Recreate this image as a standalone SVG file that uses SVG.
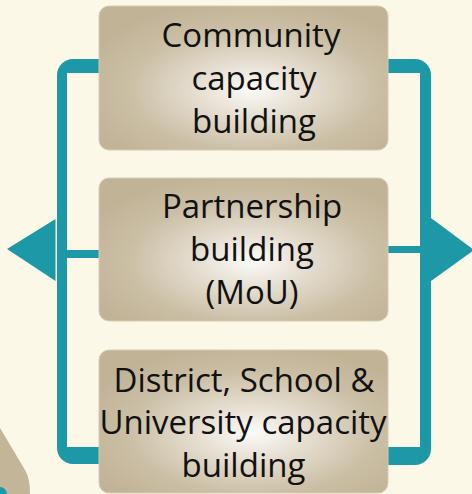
<svg xmlns="http://www.w3.org/2000/svg" width="472" height="494" viewBox="0 0 472 494">
<defs>
<radialGradient id="boxGrad" cx="0.53" cy="0.58" r="0.62" fx="0.53" fy="0.58">
<stop offset="0" stop-color="#fcfbf8"/>
<stop offset="0.3" stop-color="#e6dfd2"/>
<stop offset="0.7" stop-color="#cabea4"/>
<stop offset="1" stop-color="#c1b396"/>
</radialGradient>
<style>
.box{fill:url(#boxGrad);stroke:#d6cbb3;stroke-width:1}
.lbl{font-family:"Open Sans","DejaVu Sans",sans-serif;font-size:33px;fill:#111;text-anchor:middle}
.teal{fill:#1c98a6}
</style>
</defs>
<rect width="472" height="494" fill="#fbf8e7"/>
<g id="corner-shape">
<path d="M0,428 L25,470 Q30,478 30,494 L0,494 Z" fill="#c3b598"/>
<circle cx="0" cy="494" r="7" class="teal"/>
</g>
<g id="connectors">
<path class="teal" d="M100,59 H73 A16,16 0 0 0 57,75 V448 A16,16 0 0 0 73,464 H100 V447 H67 V73 H100 Z"/>
<path class="teal" d="M387,59 H415 A16,16 0 0 1 431,75 V449 A16,16 0 0 1 415,465 H387 V447 H420 V73 H387 Z"/>
<rect class="teal" x="67" y="250" width="33" height="8"/>
<rect class="teal" x="387" y="246" width="33" height="7"/>
<polygon class="teal" points="55.5,219 7,249 55.5,281"/>
<polygon class="teal" points="431,218 474,250 431,281"/>
</g>
<g id="node-community">
<rect class="box" x="99" y="6" width="289" height="144" rx="10"/>
<text class="lbl" x="251" y="47">Community</text>
<text class="lbl" x="254" y="90">capacity</text>
<text class="lbl" x="254" y="133">building</text>
</g>
<g id="node-partnership">
<rect class="box" x="99" y="178" width="289" height="143" rx="10"/>
<text class="lbl" x="252" y="218">Partnership</text>
<text class="lbl" x="252" y="261">building</text>
<text class="lbl" x="252" y="304">(MoU)</text>
</g>
<g id="node-district">
<rect class="box" x="99" y="350" width="289" height="143" rx="10"/>
<text class="lbl" x="244" y="392">District, School &amp;</text>
<text class="lbl" x="243" y="434">University capacity</text>
<text class="lbl" x="243.5" y="477">building</text>
</g>
</svg>
